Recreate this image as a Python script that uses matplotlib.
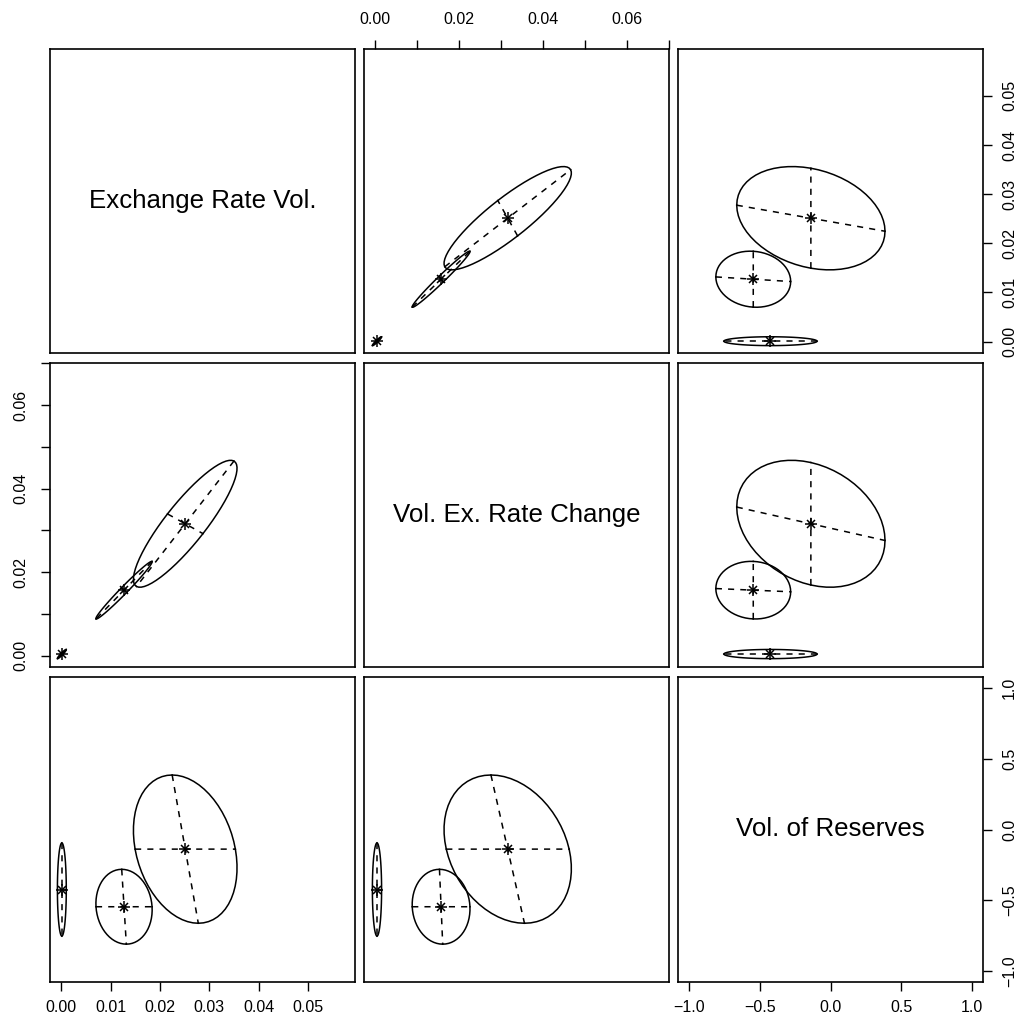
import numpy as np
import matplotlib.pyplot as plt

plt.rcParams["font.family"] = ["Liberation Sans", "DejaVu Sans"]

var_names = ["Exchange Rate Vol.", "Vol. Ex. Rate Change", "Vol. of Reserves"]

# mixture components: means, std devs, correlations (1-2, 1-3, 2-3)
means = {
    "A": [0.0001, 0.0004, -0.425],
    "B": [0.0127, 0.0157, -0.547],
    "C": [0.0251, 0.0316, -0.139],
}
sds = {
    "A": [0.0009, 0.0011, 0.33],
    "B": [0.0057, 0.0069, 0.265],
    "C": [0.0105, 0.0152, 0.525],
}
corrs = {
    "A": [0.95, 0.0, 0.0],
    "B": [0.985, -0.082, -0.056],
    "C": [0.875, -0.252, -0.263],
}

axis_lims = [(-0.0023, 0.0595), (-0.0027, 0.0701), (-1.08, 1.08)]
ticks_v1 = [0.00, 0.01, 0.02, 0.03, 0.04, 0.05]
labels_v1 = ["0.00", "0.01", "0.02", "0.03", "0.04", "0.05"]
ticks_v2 = [0.00, 0.01, 0.02, 0.03, 0.04, 0.05, 0.06, 0.07]
labels_v2 = ["0.00", "", "0.02", "", "0.04", "", "0.06", ""]
ticks_v3 = [-1.0, -0.5, 0.0, 0.5, 1.0]
labels_v3 = ["\u22121.0", "\u22120.5", "0.0", "0.5", "1.0"]
ticks = [(ticks_v1, labels_v1), (ticks_v2, labels_v2), (ticks_v3, labels_v3)]

# panel edges in pixels (figure is 1030 x 1030)
col_x = [(50, 355), (364, 669), (678, 983)]
row_y = [(49, 353), (363, 667), (677, 982)]
W = 1030.0


def cov_matrix(comp):
    s = sds[comp]
    r12, r13, r23 = corrs[comp]
    r = np.array([[1, r12, r13], [r12, 1, r23], [r13, r23, 1]])
    return r * np.outer(s, s)


def mvn2plot(ax, mu, sigma, k=15):
    vals, vecs = np.linalg.eigh(sigma)
    order = np.argsort(vals)[::-1]
    s = np.sqrt(vals[order])
    V = vecs[:, order].T
    theta = np.arange(k + 1) * (np.pi / (2 * k))
    x = s[0] * np.cos(theta)
    y = s[1] * np.sin(theta)
    xy = np.column_stack([np.r_[x, -x, -x, x], np.r_[y, y, -y, -y]]) @ V + mu
    n = len(x)
    for q in range(4):
        seg = xy[q * n:(q + 1) * n]
        ax.plot(seg[:, 0], seg[:, 1], color="black", lw=1.1)
    ends = np.array([[s[0], 0], [-s[0], 0], [0, s[1]], [0, -s[1]]]) @ V + mu
    ax.plot(ends[0:2, 0], ends[0:2, 1], color="black", lw=1.1, ls=(0, (4, 4)))
    ax.plot(ends[2:4, 0], ends[2:4, 1], color="black", lw=1.1, ls=(0, (4, 4)))
    ax.plot(mu[0], mu[1], marker="+", ms=9, mew=1.1, color="black")
    ax.plot(mu[0], mu[1], marker="x", ms=6.4, mew=1.1, color="black")


fig = plt.figure(figsize=(10.3, 10.3), dpi=100)

for r in range(3):
    for c in range(3):
        x0, x1 = col_x[c]
        y0, y1 = row_y[r]
        ax = fig.add_axes([x0 / W, 1 - y1 / W, (x1 - x0) / W, (y1 - y0) / W])
        ax.set_xlim(axis_lims[c])
        ax.set_ylim(axis_lims[r])
        for sp in ax.spines.values():
            sp.set_linewidth(1.2)
        ax.tick_params(which="both", bottom=False, top=False, left=False, right=False,
                       labelbottom=False, labeltop=False, labelleft=False, labelright=False)
        ax.set_xticks([])
        ax.set_yticks([])

        if r == c:
            ax.text(0.5, 0.5, var_names[r], transform=ax.transAxes, ha="center",
                    va="center", fontsize=18.6)
        else:
            for comp in means:
                cov = cov_matrix(comp)
                mu = np.array([means[comp][c], means[comp][r]])
                sub = cov[np.ix_([c, r], [c, r])]
                mvn2plot(ax, mu, sub)

        # outer axes like R pairs()
        if r == 0 and c % 2 == 1:
            ax.set_xticks(ticks[c][0], ticks[c][1])
            ax.tick_params(axis="x", top=True, labeltop=True, direction="out",
                           length=6.8, width=1.0, pad=9, labelsize=11.5)
        if r == 2 and c % 2 == 0:
            ax.set_xticks(ticks[c][0], ticks[c][1])
            ax.tick_params(axis="x", bottom=True, labelbottom=True, direction="out",
                           length=6.8, width=1.0, pad=6.5, labelsize=11.5)
        if c == 0 and r % 2 == 1:
            ax.set_yticks(ticks[r][0], ticks[r][1])
            ax.tick_params(axis="y", left=True, labelleft=True, direction="out",
                           length=6.8, width=1.0, pad=9, labelsize=11.5)
            for lab in ax.get_yticklabels():
                lab.set_rotation(90)
                lab.set_va("center")
        if c == 2 and r % 2 == 0:
            ax.set_yticks(ticks[r][0], ticks[r][1])
            ax.tick_params(axis="y", right=True, labelright=True, direction="out",
                           length=6.8, width=1.0, pad=7, labelsize=11.5)
            for lab in ax.get_yticklabels():
                lab.set_rotation(90)
                lab.set_va("center")

fig.savefig("out.png", dpi=100)
